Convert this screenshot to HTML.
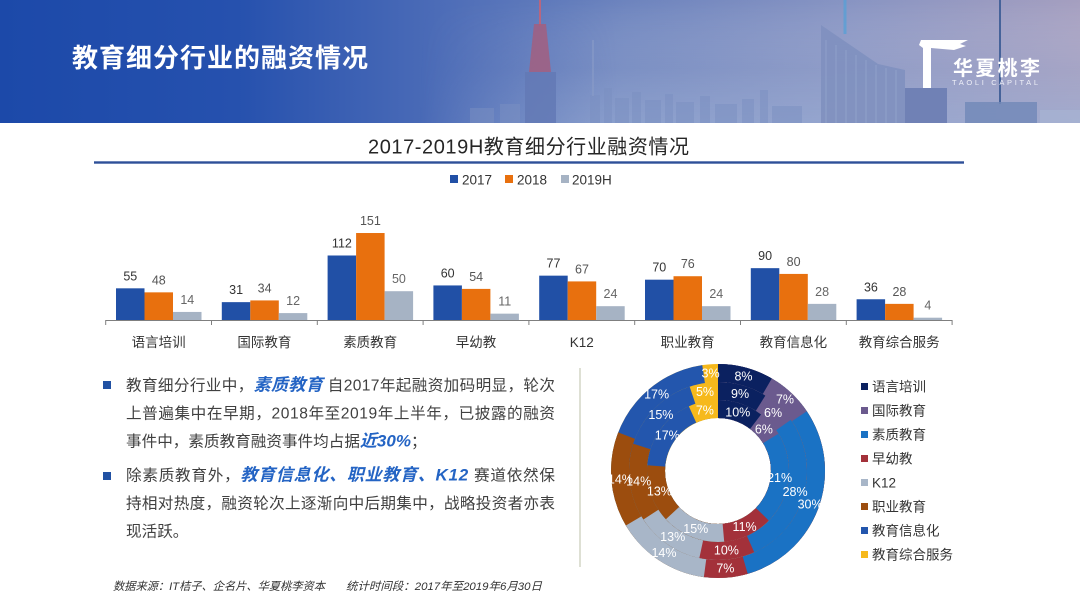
<!DOCTYPE html>
<html><head><meta charset="utf-8">
<style>
html,body{margin:0;padding:0;background:#fff;}
svg{display:block;font-family:"Liberation Sans","Noto Sans CJK SC",sans-serif;}
</style></head>
<body>
<svg width="1080" height="608" viewBox="0 0 1080 608" xmlns="http://www.w3.org/2000/svg">
<defs>
<linearGradient id="hg" x1="0" y1="0" x2="1" y2="0">
<stop offset="0" stop-color="#1c49a9"/>
<stop offset="0.22" stop-color="#2651ae"/>
<stop offset="0.42" stop-color="#4f6eb8"/>
<stop offset="0.58" stop-color="#6d84be"/>
<stop offset="0.78" stop-color="#8794c3"/>
<stop offset="1" stop-color="#a59fc0"/>
</linearGradient>
<linearGradient id="vg" x1="0" y1="0" x2="0" y2="1">
<stop offset="0" stop-color="#ffffff" stop-opacity="0"/>
<stop offset="0.55" stop-color="#a9b6d6" stop-opacity="0.25"/>
<stop offset="1" stop-color="#9fb1d6" stop-opacity="0.6"/>
</linearGradient>
<linearGradient id="fadeh" x1="0" y1="0" x2="1" y2="0">
<stop offset="0" stop-color="#fff" stop-opacity="0"/>
<stop offset="0.3" stop-color="#fff" stop-opacity="1"/>
<stop offset="1" stop-color="#fff" stop-opacity="1"/>
</linearGradient>
<mask id="mk"><rect x="420" y="0" width="660" height="123" fill="url(#fadeh)"/></mask>
</defs>

<!-- Header -->
<rect x="0" y="0" width="1080" height="123" fill="url(#hg)"/>
<rect x="420" y="0" width="660" height="123" fill="url(#vg)" mask="url(#mk)"/>
<g opacity="0.5" fill="#7b90c2">
<rect x="590" y="95" width="10" height="28"/><rect x="604" y="88" width="8" height="35"/>
<rect x="615" y="98" width="14" height="25"/><rect x="632" y="92" width="9" height="31"/>
<rect x="645" y="100" width="16" height="23"/><rect x="665" y="94" width="8" height="29"/>
<rect x="676" y="102" width="18" height="21"/><rect x="700" y="96" width="10" height="27"/>
<rect x="715" y="104" width="22" height="19"/><rect x="742" y="99" width="12" height="24"/>
<rect x="760" y="90" width="8" height="33"/><rect x="772" y="106" width="30" height="17"/>
<rect x="500" y="104" width="20" height="19"/><rect x="470" y="108" width="24" height="15"/>
</g>
<line x1="593" y1="40" x2="593" y2="96" stroke="#8a9cc8" stroke-width="2" opacity="0.6"/>
<!-- empire state -->
<line x1="540" y1="0" x2="540" y2="26" stroke="#b8667f" stroke-width="2"/>
<polygon points="534,24 546,24 551,72 529,72" fill="#a65d7c" opacity="0.8"/>
<rect x="525" y="72" width="31" height="51" fill="#6379b5" opacity="0.85"/>
<!-- big glass building -->
<polygon points="821,25 878,64 905,70 905,123 821,123" fill="#7f90bf" opacity="0.9"/>
<g stroke="#9fb0d4" stroke-width="1" opacity="0.5">
<line x1="826" y1="40" x2="826" y2="123"/><line x1="836" y1="45" x2="836" y2="123"/>
<line x1="846" y1="50" x2="846" y2="123"/><line x1="856" y1="55" x2="856" y2="123"/>
<line x1="866" y1="60" x2="866" y2="123"/><line x1="876" y1="65" x2="876" y2="123"/>
<line x1="886" y1="68" x2="886" y2="123"/><line x1="896" y1="70" x2="896" y2="123"/>
</g>
<rect x="905" y="88" width="42" height="35" fill="#6b7db2" opacity="0.9"/>
<line x1="845" y1="0" x2="845" y2="34" stroke="#5aa0d6" stroke-width="3" opacity="0.8"/>
<line x1="1000" y1="0" x2="1000" y2="104" stroke="#46639a" stroke-width="2"/>
<rect x="965" y="102" width="72" height="21" fill="#7389b9" opacity="0.85"/>
<rect x="1040" y="110" width="40" height="13" fill="#a8b6d4" opacity="0.6"/>

<text x="72" y="67" font-size="26" font-weight="bold" fill="#ffffff" textLength="296" lengthAdjust="spacing">教育细分行业的融资情况</text>

<!-- logo -->
<polygon points="921,40 968,40 960,44 966,46 954,50 931,48 931,88 923,88 923,48 919,45" fill="#ffffff"/>
<text x="953" y="75" font-size="20" font-weight="bold" fill="#ffffff" textLength="87" lengthAdjust="spacing">华夏桃李</text>
<text x="952" y="85" font-size="7.5" fill="#eef0f8" textLength="86" lengthAdjust="spacing">TAOLI CAPITAL</text>

<!-- Chart title -->
<text x="528.5" y="153.5" font-size="20" fill="#262626" text-anchor="middle" textLength="321" lengthAdjust="spacing">2017-2019H教育细分行业融资情况</text>
<rect x="94" y="161.3" width="870" height="2.4" fill="#2e4f98"/>

<!-- legend -->
<rect x="450" y="175" width="8" height="8" fill="#2150a6"/>
<text x="462" y="184.5" font-size="13.5" fill="#333">2017</text>
<rect x="505" y="175" width="8" height="8" fill="#e8700e"/>
<text x="517" y="184.5" font-size="13.5" fill="#333">2018</text>
<rect x="561" y="175" width="8" height="8" fill="#a6b3c4"/>
<text x="572" y="184.5" font-size="13.5" fill="#333">2019H</text>

<!-- bars -->
<g fill="#2150a6">
<rect x="116.0" y="288.32" width="28.5" height="31.68"/>
<rect x="221.8" y="302.14" width="28.5" height="17.86"/>
<rect x="327.6" y="255.49" width="28.5" height="64.51"/>
<rect x="433.4" y="285.44" width="28.5" height="34.56"/>
<rect x="539.2" y="275.65" width="28.5" height="44.35"/>
<rect x="645.0" y="279.68" width="28.5" height="40.32"/>
<rect x="750.8" y="268.16" width="28.5" height="51.84"/>
<rect x="856.6" y="299.26" width="28.5" height="20.74"/>
</g>
<g fill="#e8700e">
<rect x="144.5" y="292.35" width="28.5" height="27.65"/>
<rect x="250.3" y="300.42" width="28.5" height="19.58"/>
<rect x="356.1" y="233.02" width="28.5" height="86.98"/>
<rect x="461.9" y="288.90" width="28.5" height="31.10"/>
<rect x="567.7" y="281.41" width="28.5" height="38.59"/>
<rect x="673.5" y="276.22" width="28.5" height="43.78"/>
<rect x="779.3" y="273.92" width="28.5" height="46.08"/>
<rect x="885.1" y="303.87" width="28.5" height="16.13"/>
</g>
<g fill="#a6b3c4">
<rect x="173.0" y="311.94" width="28.5" height="8.06"/>
<rect x="278.8" y="313.09" width="28.5" height="6.91"/>
<rect x="384.6" y="291.20" width="28.5" height="28.80"/>
<rect x="490.4" y="313.66" width="28.5" height="6.34"/>
<rect x="596.2" y="306.18" width="28.5" height="13.82"/>
<rect x="702.0" y="306.18" width="28.5" height="13.82"/>
<rect x="807.8" y="303.87" width="28.5" height="16.13"/>
<rect x="913.6" y="317.70" width="28.5" height="2.30"/>
</g>

<!-- value labels -->
<g font-size="12.5" text-anchor="middle" fill="#333">
<text x="130.3" y="280.3">55</text><text x="236.1" y="294.1">31</text>
<text x="341.9" y="247.5">112</text><text x="447.7" y="277.4">60</text>
<text x="553.5" y="267.6">77</text><text x="659.3" y="271.7">70</text>
<text x="765.1" y="260.2">90</text><text x="870.9" y="291.3">36</text>
</g>
<g font-size="12.5" text-anchor="middle" fill="#555">
<text x="158.8" y="284.3">48</text><text x="264.6" y="292.4">34</text>
<text x="370.4" y="225.0">151</text><text x="476.2" y="280.9">54</text>
<text x="582.0" y="273.4">67</text><text x="687.8" y="268.2">76</text>
<text x="793.6" y="265.9">80</text><text x="899.4" y="295.9">28</text>
</g>
<g font-size="12.5" text-anchor="middle" fill="#666">
<text x="187.3" y="303.9">14</text><text x="293.1" y="305.1">12</text>
<text x="398.9" y="283.2">50</text><text x="504.7" y="305.7">11</text>
<text x="610.5" y="298.2">24</text><text x="716.3" y="298.2">24</text>
<text x="822.1" y="295.9">28</text><text x="927.9" y="309.7">4</text>
</g>

<!-- axis -->
<line x1="105.7" y1="320.5" x2="952.1" y2="320.5" stroke="#7f7f7f" stroke-width="1"/>
<g stroke="#7f7f7f" stroke-width="1">
<line x1="105.7" y1="320" x2="105.7" y2="325"/><line x1="211.5" y1="320" x2="211.5" y2="325"/>
<line x1="317.3" y1="320" x2="317.3" y2="325"/><line x1="423.1" y1="320" x2="423.1" y2="325"/>
<line x1="528.9" y1="320" x2="528.9" y2="325"/><line x1="634.7" y1="320" x2="634.7" y2="325"/>
<line x1="740.5" y1="320" x2="740.5" y2="325"/><line x1="846.3" y1="320" x2="846.3" y2="325"/>
<line x1="952.1" y1="320" x2="952.1" y2="325"/>
</g>
<g font-size="13.5" text-anchor="middle" fill="#333">
<text x="158.6" y="347">语言培训</text><text x="264.4" y="347">国际教育</text>
<text x="370.2" y="347">素质教育</text><text x="476.0" y="347">早幼教</text>
<text x="581.8" y="347">K12</text><text x="687.6" y="347">职业教育</text>
<text x="793.4" y="347">教育信息化</text><text x="899.2" y="347">教育综合服务</text>
</g>

<!-- left text -->
<rect x="103" y="381" width="8" height="8" fill="#2151a3"/>
<rect x="103" y="472" width="8" height="8" fill="#2151a3"/>
<g font-size="15.6" fill="#404040">
<text x="126" y="390.5" textLength="429" lengthAdjust="spacing">教育细分行业中，<tspan font-weight="bold" font-style="italic" fill="#2464c4" font-size="17">素质教育</tspan> 自2017年起融资加码明显，轮次</text>
<text x="126" y="418.5" textLength="429" lengthAdjust="spacing">上普遍集中在早期，2018年至2019年上半年，已披露的融资</text>
<text x="126" y="446.5">事件中，素质教育融资事件均占据<tspan font-weight="bold" font-style="italic" fill="#2464c4" font-size="17">近30%</tspan>；</text>
<text x="126" y="480.5" textLength="429" lengthAdjust="spacing">除素质教育外，<tspan font-weight="bold" font-style="italic" fill="#2464c4" font-size="17">教育信息化、职业教育、K12</tspan> 赛道依然保</text>
<text x="126" y="508.5" textLength="429" lengthAdjust="spacing">持相对热度，融资轮次上逐渐向中后期集中，战略投资者亦表</text>
<text x="126" y="536.5">现活跃。</text>
</g>

<!-- separator -->
<line x1="580" y1="368" x2="580" y2="567" stroke="#d3d6c6" stroke-width="1.5"/>

<!-- source -->
<text x="113" y="590" font-size="11.3" font-style="italic" fill="#333" textLength="212" lengthAdjust="spacingAndGlyphs">数据来源：IT桔子、企名片、华夏桃李资本</text>
<text x="346" y="590" font-size="11.3" font-style="italic" fill="#333" textLength="196" lengthAdjust="spacingAndGlyphs">统计时间段：2017年至2019年6月30日</text>

<!-- donut: outer ring (2019H) drawn wide, then 2018, then 2017 on top -->
<g fill="none" transform="rotate(-90 718 471)">
<g stroke-width="54">
<circle cx="718" cy="471" r="80" stroke="#f6b91c"/>
<circle cx="718" cy="471" r="80" stroke="#2356ad" stroke-dasharray="490.62 2000"/>
<circle cx="718" cy="471" r="80" stroke="#9c4d0e" stroke-dasharray="406.34 2000"/>
<circle cx="718" cy="471" r="80" stroke="#a8b6c8" stroke-dasharray="334.10 2000"/>
<circle cx="718" cy="471" r="80" stroke="#a3313a" stroke-dasharray="261.85 2000"/>
<circle cx="718" cy="471" r="80" stroke="#1a72c4" stroke-dasharray="228.75 2000"/>
<circle cx="718" cy="471" r="80" stroke="#6b5a8e" stroke-dasharray="78.26 2000"/>
<circle cx="718" cy="471" r="80" stroke="#0b2160" stroke-dasharray="42.14 2000"/>
</g>
<g stroke-width="36">
<circle cx="718" cy="471" r="71" stroke="#f6b91c"/>
<circle cx="718" cy="471" r="71" stroke="#2356ad" stroke-dasharray="422.88 2000"/>
<circle cx="718" cy="471" r="71" stroke="#9c4d0e" stroke-dasharray="356.55 2000"/>
<circle cx="718" cy="471" r="71" stroke="#a8b6c8" stroke-dasharray="293.54 2000"/>
<circle cx="718" cy="471" r="71" stroke="#a3313a" stroke-dasharray="237.97 2000"/>
<circle cx="718" cy="471" r="71" stroke="#1a72c4" stroke-dasharray="193.20 2000"/>
<circle cx="718" cy="471" r="71" stroke="#6b5a8e" stroke-dasharray="67.99 2000"/>
<circle cx="718" cy="471" r="71" stroke="#0b2160" stroke-dasharray="39.80 2000"/>
</g>
<g stroke-width="18">
<circle cx="718" cy="471" r="62" stroke="#f6b91c"/>
<circle cx="718" cy="471" r="62" stroke="#2356ad" stroke-dasharray="363.14 2000"/>
<circle cx="718" cy="471" r="62" stroke="#9c4d0e" stroke-dasharray="297.12 2000"/>
<circle cx="718" cy="471" r="62" stroke="#a8b6c8" stroke-dasharray="245.77 2000"/>
<circle cx="718" cy="471" r="62" stroke="#a3313a" stroke-dasharray="189.28 2000"/>
<circle cx="718" cy="471" r="62" stroke="#1a72c4" stroke-dasharray="145.26 2000"/>
<circle cx="718" cy="471" r="62" stroke="#6b5a8e" stroke-dasharray="63.10 2000"/>
<circle cx="718" cy="471" r="62" stroke="#0b2160" stroke-dasharray="40.35 2000"/>
</g>
</g>
<g font-size="12.5" fill="#ffffff" text-anchor="middle" dominant-baseline="central">
<text x="737.8" y="412.3">10%</text><text x="763.9" y="429.4">6%</text>
<text x="779.6" y="477.8">21%</text><text x="744.6" y="527.0">11%</text>
<text x="695.8" y="528.9">15%</text><text x="659.4" y="491.3">13%</text>
<text x="667.3" y="435.4">17%</text><text x="704.9" y="410.4">7%</text>

<text x="740.1" y="394.1">9%</text><text x="773.1" y="413.0">6%</text>
<text x="795.1" y="492.2">28%</text><text x="726.4" y="550.6">10%</text>
<text x="672.7" y="537.0">13%</text><text x="638.7" y="481.7">14%</text>
<text x="660.9" y="414.9">15%</text><text x="705.0" y="392.1">5%</text>

<text x="743.5" y="376.4">8%</text><text x="785.0" y="399.5">7%</text>
<text x="810.1" y="504.4">30%</text><text x="725.4" y="568.7">7%</text>
<text x="664.0" y="552.8">14%</text><text x="620.4" y="479.3">14%</text>
<text x="656.6" y="394.6">17%</text><text x="710.6" y="373.3">3%</text>
</g>

<!-- donut legend -->
<rect x="861" y="383" width="7" height="7" fill="#0b2160"/>
<rect x="861" y="407" width="7" height="7" fill="#6b5a8e"/>
<rect x="861" y="431" width="7" height="7" fill="#1a72c4"/>
<rect x="861" y="455" width="7" height="7" fill="#a3313a"/>
<rect x="861" y="479" width="7" height="7" fill="#a8b6c8"/>
<rect x="861" y="503" width="7" height="7" fill="#9c4d0e"/>
<rect x="861" y="527" width="7" height="7" fill="#2356ad"/>
<rect x="861" y="551" width="7" height="7" fill="#f6b91c"/>
<g font-size="13.5" fill="#333">
<text x="872" y="391.5">语言培训</text>
<text x="872" y="415.5">国际教育</text>
<text x="872" y="439.5">素质教育</text>
<text x="872" y="463.5">早幼教</text>
<text x="872" y="487.5">K12</text>
<text x="872" y="511.5">职业教育</text>
<text x="872" y="535.5">教育信息化</text>
<text x="872" y="559.5">教育综合服务</text>
</g>
</svg>
</body></html>
